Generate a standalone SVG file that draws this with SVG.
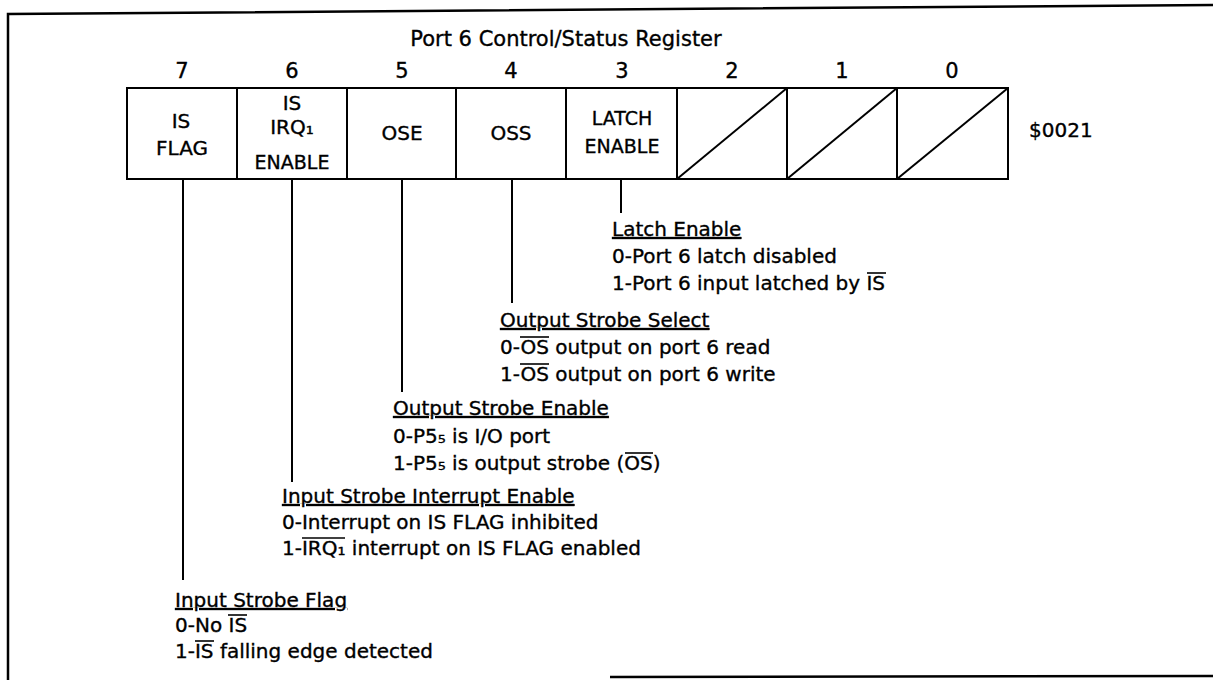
<svg xmlns="http://www.w3.org/2000/svg" width="1213" height="680" viewBox="0 0 1213 680">
<style>
text{font-family:"DejaVu Sans","Liberation Sans",sans-serif;font-size:20px;fill:#000;stroke:#000;stroke-width:0.35}
.c{text-anchor:middle}
.big{font-size:21px}
.cell{fill:#fff;stroke:#000;stroke-width:2}
.diag{stroke:#000;stroke-width:2;fill:none}
.conn line{stroke:#000;stroke-width:2}
.frame{fill:none;stroke:#000;stroke-width:2.5}
.u{text-decoration:underline}
.ov{stroke:#000;stroke-width:1.6}
</style>
<rect width="1213" height="680" fill="#fff"/>
<path class="frame" d="M8,682 L8,14 L1213,5"/>
<line x1="610" y1="677" x2="1213" y2="676" stroke="#000" stroke-width="2.5"/>
<text id="title" class="c big" x="566" y="46">Port 6 Control/Status Register</text>
<g id="bitnumbers">
<text class="c big" x="182" y="78">7</text>
<text class="c big" x="292" y="78">6</text>
<text class="c big" x="402" y="78">5</text>
<text class="c big" x="511" y="78">4</text>
<text class="c big" x="622" y="78">3</text>
<text class="c big" x="732" y="78">2</text>
<text class="c big" x="842" y="78">1</text>
<text class="c big" x="952" y="78">0</text>
</g>
<g id="bit7"><rect class="cell" x="127" y="88" width="110" height="91"/><text class="c" x="181" y="128">IS</text><text class="c" x="182" y="155">FLAG</text></g>
<g id="bit6"><rect class="cell" x="237" y="88" width="110" height="91"/><text class="c" x="292" y="110">IS</text><text class="c" x="292" y="134">IRQ₁</text><text class="c" x="292" y="169" style="font-size:19px">ENABLE</text></g>
<g id="bit5"><rect class="cell" x="347" y="88" width="109" height="91"/><text class="c" x="402" y="140">OSE</text></g>
<g id="bit4"><rect class="cell" x="456" y="88" width="110" height="91"/><text class="c" x="511" y="140">OSS</text></g>
<g id="bit3"><rect class="cell" x="566" y="88" width="111" height="91"/><text class="c" x="622" y="125" style="font-size:19px">LATCH</text><text class="c" x="622" y="153" style="font-size:19px">ENABLE</text></g>
<g id="bit2"><rect class="cell" x="677" y="88" width="110" height="91"/><line class="diag" x1="677" y1="179" x2="787" y2="88"/></g>
<g id="bit1"><rect class="cell" x="787" y="88" width="110" height="91"/><line class="diag" x1="787" y1="179" x2="897" y2="88"/></g>
<g id="bit0"><rect class="cell" x="897" y="88" width="111" height="91"/><line class="diag" x1="897" y1="179" x2="1008" y2="88"/></g>
<text id="address" x="1029" y="137">$0021</text>
<g id="connectors" class="conn">
<line x1="621" y1="179" x2="621" y2="213"/>
<line x1="512" y1="179" x2="512" y2="303"/>
<line x1="402" y1="179" x2="402" y2="392"/>
<line x1="292" y1="179" x2="292" y2="482"/>
<line x1="183" y1="179" x2="183" y2="580"/>
</g>
<g id="desc-latch">
<text x="612" y="236" class="u">Latch Enable</text>
<text x="612" y="263">0-Port 6 latch disabled</text>
<text x="612" y="290">1-Port 6 input latched by IS</text>
<line class="ov" x1="867" y1="273" x2="886" y2="273"/>
</g>
<g id="desc-oss">
<text x="500" y="327" class="u">Output Strobe Select</text>
<text x="500" y="354">0-OS output on port 6 read</text>
<text x="500" y="381">1-OS output on port 6 write</text>
<line class="ov" x1="520" y1="337" x2="549" y2="337"/>
<line class="ov" x1="520" y1="364" x2="549" y2="364"/>
</g>
<g id="desc-ose">
<text x="393" y="415" class="u">Output Strobe Enable</text>
<text x="393" y="443">0-P5₅ is I/O port</text>
<text x="393" y="470">1-P5₅ is output strobe (OS)</text>
<line class="ov" x1="625" y1="453" x2="653" y2="453"/>
</g>
<g id="desc-isie">
<text x="282" y="503" class="u">Input Strobe Interrupt Enable</text>
<text x="282" y="529">0-Interrupt on IS FLAG inhibited</text>
<text x="282" y="555">1-IRQ₁ interrupt on IS FLAG enabled</text>
<line class="ov" x1="302" y1="538" x2="345" y2="538"/>
</g>
<g id="desc-isf">
<text x="175" y="607" class="u">Input Strobe Flag</text>
<text x="175" y="632">0-No IS</text>
<text x="175" y="658">1-IS falling edge detected</text>
<line class="ov" x1="228" y1="615" x2="247" y2="615"/>
<line class="ov" x1="195" y1="641" x2="214" y2="641"/>
</g>
</svg>
